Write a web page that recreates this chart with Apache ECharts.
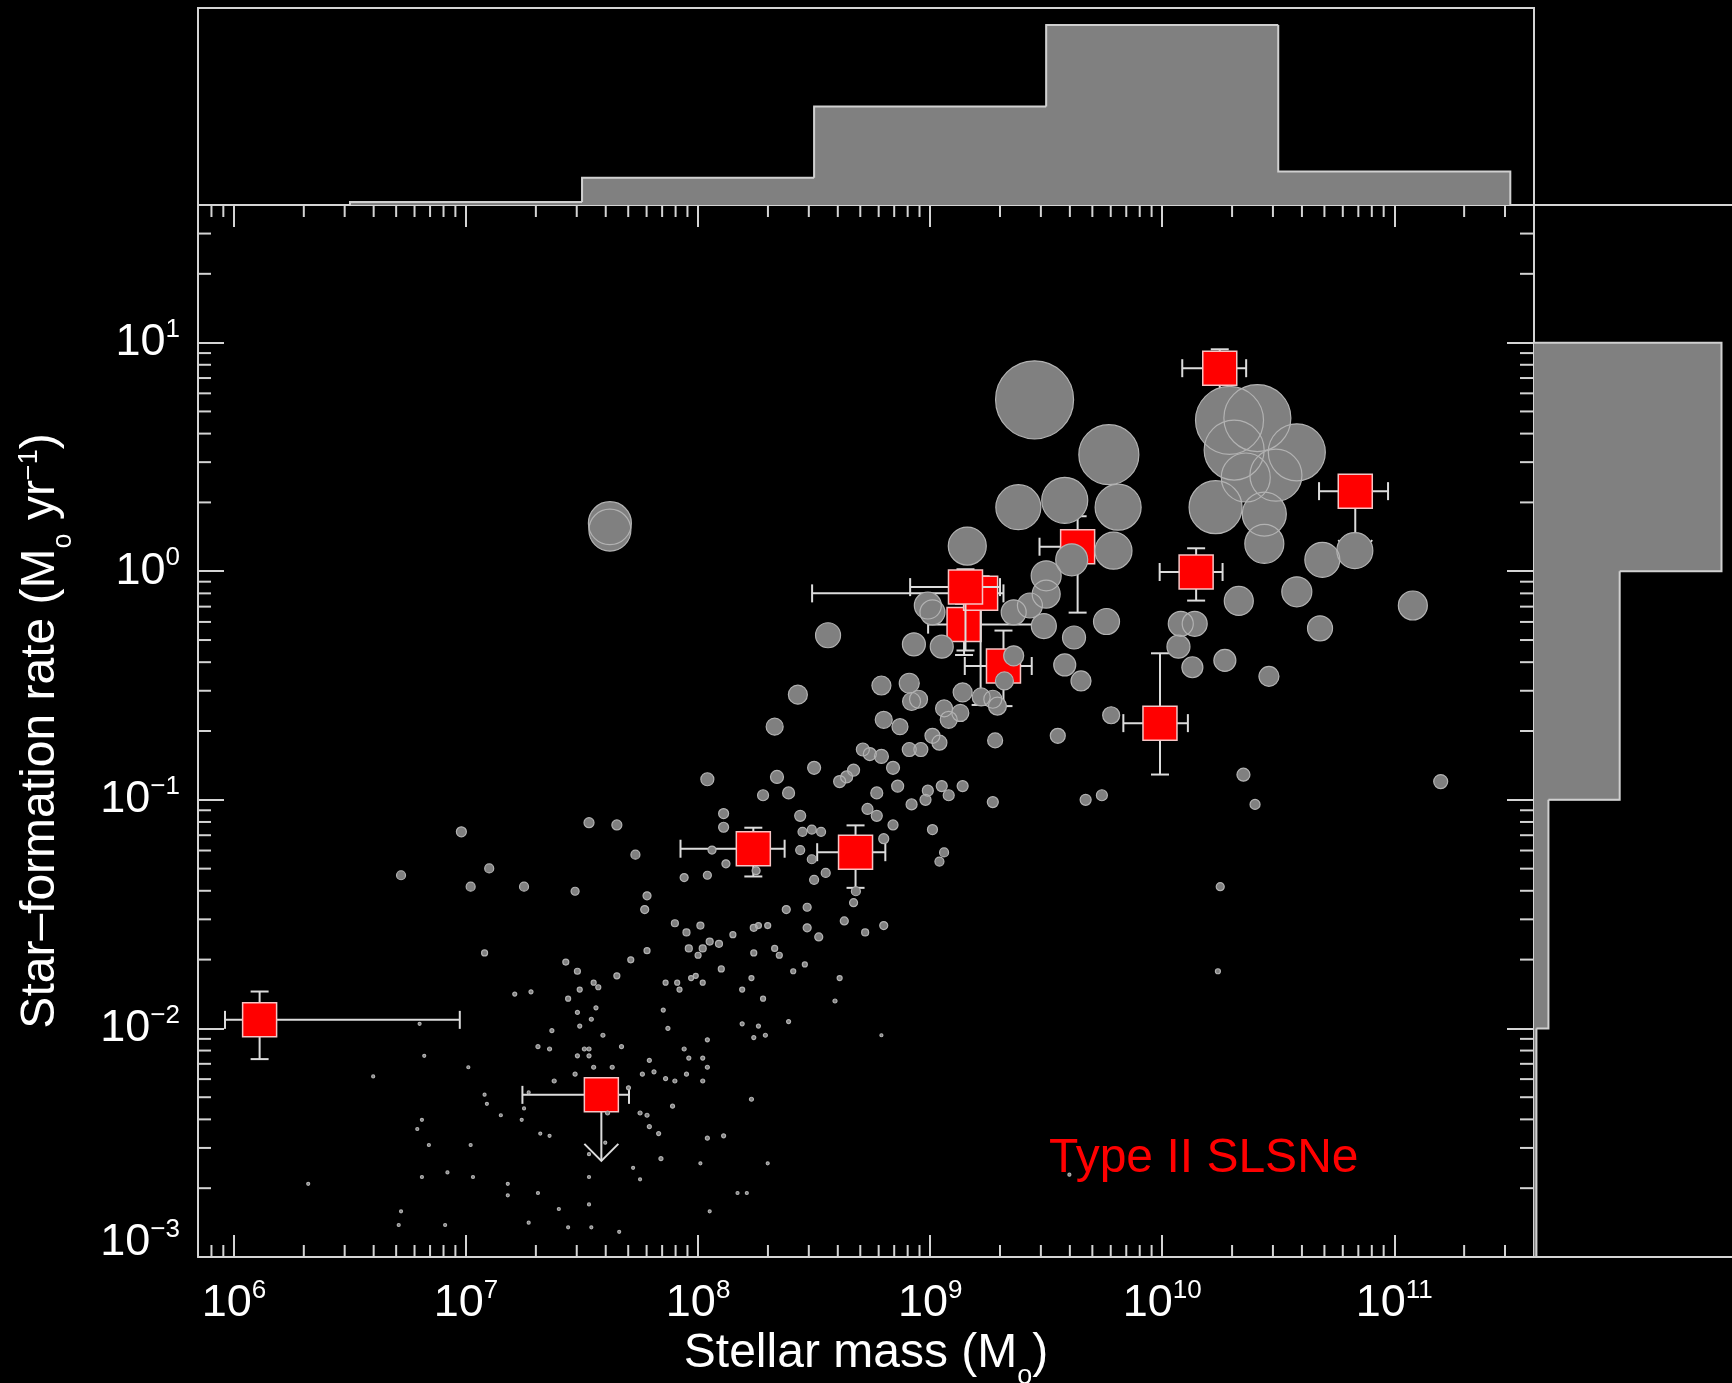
<!DOCTYPE html>
<html>
<head>
<meta charset="utf-8">
<title>Type II SLSN hosts: stellar mass vs star-formation rate</title>
<style>
  html, body { margin: 0; padding: 0; background: #000; }
  #chart { width: 1732px; height: 1383px; }
</style>
<script src="https://cdn.jsdelivr.net/npm/echarts@6/dist/echarts.min.js"></script>
</head>
<body>
<div id="chart"></div>
<script>
// ---------------------------------------------------------------
// Data
// ---------------------------------------------------------------

// Comparison galaxy sample: [log10 stellar mass (Msun), log10 SFR (Msun/yr), marker weight]
const comparisonHosts = [
  [8.28,-0.98,1.1],[6.98,-1.14,1.0],[7.53,-1.10,1.0],[7.65,-1.11,1.0],[8.11,-1.06,1.0],[8.11,-1.12,1.0],
  [7.73,-1.24,0.9],[6.72,-1.33,0.9],[7.10,-1.30,0.9],[7.02,-1.38,0.9],[7.25,-1.38,0.9],[7.47,-1.40,0.8],
  [7.78,-1.42,0.8],[7.77,-1.48,0.8],[8.06,-1.22,0.8],[8.12,-1.28,0.8],[7.94,-1.34,0.8],[8.04,-1.33,0.8],
  [8.25,-1.31,0.8],[7.90,-1.54,0.7],[7.95,-1.58,0.7],[8.01,-1.55,0.7],[8.05,-1.62,0.7],[8.09,-1.63,0.7],
  [8.02,-1.65,0.7],[7.96,-1.65,0.7],[8.00,-1.68,0.6],[8.15,-1.59,0.6],[8.24,-1.56,0.7],[8.26,-1.55,0.6],
  [8.30,-1.55,0.6],[8.24,-1.67,0.6],[7.78,-1.66,0.6],[7.71,-1.70,0.6],[7.65,-1.77,0.6],[7.43,-1.71,0.6],
  [7.48,-1.75,0.6],[7.08,-1.67,0.6],[8.10,-1.74,0.6],[8.23,-1.78,0.5],[8.19,-1.83,0.5],[8.28,-1.87,0.5],
  [7.86,-1.80,0.5],[7.91,-1.80,0.5],[7.92,-1.83,0.5],[7.97,-1.78,0.5],[7.99,-1.77,0.5],[8.02,-1.80,0.5],
  [7.85,-1.92,0.4],[7.87,-2.00,0.4],[7.94,-2.09,0.4],[7.96,-2.13,0.4],[8.02,-2.13,0.4],[8.04,-2.17,0.4],
  [8.04,-2.05,0.4],[8.19,-1.98,0.4],[8.26,-1.99,0.4],[8.29,-2.03,0.4],[8.24,-2.04,0.4],[7.55,-1.80,0.5],
  [7.57,-1.82,0.5],[7.49,-1.83,0.5],[7.44,-1.87,0.5],[7.56,-1.91,0.4],[7.48,-1.93,0.4],[7.54,-1.96,0.4],
  [7.49,-1.99,0.4],[7.59,-2.03,0.4],[7.67,-2.08,0.4],[7.28,-1.84,0.4],[7.21,-1.85,0.4],[7.37,-2.01,0.4],
  [7.31,-2.08,0.4],[7.36,-2.09,0.4],[7.51,-2.09,0.4],[7.53,-2.09,0.4],[7.48,-2.12,0.4],[7.53,-2.12,0.4],
  [7.55,-2.17,0.4],[7.63,-2.17,0.4],[7.47,-2.20,0.4],[7.38,-2.23,0.4],[7.76,-2.20,0.4],[7.81,-2.19,0.4],
  [7.79,-2.14,0.4],[7.86,-2.22,0.4],[7.90,-2.23,0.4],[7.95,-2.20,0.4],[8.02,-2.23,0.4],[7.89,-2.34,0.4],
  [8.23,-2.31,0.4],[7.70,-2.26,0.4],[7.61,-2.37,0.4],[7.75,-2.37,0.4],[7.78,-2.38,0.4],[7.79,-2.43,0.4],
  [7.83,-2.46,0.4],[8.04,-2.48,0.4],[8.11,-2.47,0.4],[7.84,-2.57,0.4],[7.72,-2.61,0.3],[7.75,-2.66,0.3],
  [8.01,-2.59,0.3],[8.30,-2.59,0.3],[8.17,-2.72,0.3],[8.21,-2.72,0.3],[8.05,-2.80,0.3],[7.66,-2.89,0.3],
  [7.54,-2.87,0.3],[7.44,-2.87,0.3],[7.27,-2.85,0.3],[7.40,-2.79,0.3],[7.53,-2.77,0.3],[7.53,-2.65,0.3],
  [7.60,-2.50,0.3],[7.53,-2.55,0.3],[7.31,-2.72,0.3],[7.18,-2.68,0.3],[7.18,-2.73,0.3],[7.03,-2.65,0.3],
  [6.92,-2.63,0.3],[6.81,-2.65,0.3],[6.91,-2.86,0.3],[6.71,-2.86,0.3],[6.72,-2.80,0.3],[6.32,-2.68,0.3],
  [6.84,-2.51,0.3],[7.02,-2.51,0.3],[6.79,-2.44,0.3],[6.81,-2.40,0.3],[7.24,-2.40,0.3],[7.15,-2.38,0.3],
  [7.25,-2.35,0.3],[7.32,-2.46,0.3],[7.36,-2.47,0.3],[7.09,-2.33,0.3],[7.08,-2.29,0.3],[7.27,-2.28,0.3],
  [7.01,-2.17,0.3],[6.82,-2.12,0.3],[6.80,-1.98,0.3],[6.60,-2.21,0.3],
  [8.39,-0.97,1.2],[8.77,-0.97,1.2],[8.86,-0.94,1.2],[8.99,-0.96,1.1],[9.05,-0.94,1.1],[9.08,-0.98,1.1],
  [9.14,-0.94,1.1],[8.98,-1.00,1.1],[8.92,-1.02,1.1],[9.27,-1.01,1.1],[9.67,-1.00,1.1],[9.74,-0.98,1.1],
  [10.40,-1.02,1.0],[8.44,-1.07,1.1],[8.73,-1.04,1.1],[8.77,-1.07,1.1],[8.45,-1.14,0.9],[8.49,-1.13,0.9],
  [8.53,-1.14,0.9],[8.84,-1.11,1.0],[9.01,-1.13,1.0],[8.80,-1.17,1.0],[8.44,-1.22,0.9],[8.49,-1.26,0.9],
  [9.06,-1.23,0.9],[9.04,-1.27,0.9],[8.55,-1.32,0.9],[8.50,-1.35,0.9],[8.68,-1.40,0.9],[8.67,-1.45,0.8],
  [8.38,-1.48,0.8],[8.47,-1.47,0.8],[8.63,-1.53,0.8],[8.80,-1.55,0.8],[8.47,-1.56,0.8],[8.52,-1.60,0.8],
  [8.72,-1.58,0.7],[8.33,-1.65,0.6],[8.35,-1.68,0.6],[8.41,-1.75,0.5],[8.46,-1.72,0.5],[8.61,-1.78,0.5],
  [8.59,-1.88,0.4],[8.39,-1.97,0.4],[8.79,-2.03,0.3],[10.25,-1.38,0.8],[10.24,-1.75,0.5],[9.60,-2.64,0.3],
  [7.62,0.21,4.3],[7.62,0.18,4.2],[8.56,-0.28,2.5],[8.43,-0.54,1.9],[8.33,-0.68,1.7],[8.04,-0.91,1.3],
  [8.34,-0.90,1.3],[8.50,-0.86,1.3],[8.71,-0.78,1.3],[8.74,-0.80,1.3],[8.67,-0.87,1.2],[8.64,-0.90,1.2],
  [8.61,-0.92,1.2],
  [8.99,-0.15,2.7],[9.01,-0.18,2.5],[8.93,-0.32,2.3],[9.05,-0.33,2.3],[8.79,-0.50,1.9],[8.91,-0.49,2.0],
  [8.95,-0.56,1.8],[8.92,-0.57,1.8],[8.80,-0.65,1.7],[8.87,-0.68,1.6],[9.01,-0.72,1.5],[9.04,-0.75,1.5],
  [8.91,-0.78,1.4],[8.96,-0.78,1.4],[8.79,-0.81,1.4],[8.84,-0.86,1.3],[9.14,-0.53,1.9],[9.06,-0.60,1.7],
  [9.13,-0.62,1.7],[9.08,-0.65,1.7],[9.22,-0.55,1.8],[9.27,-0.56,1.8],[9.29,-0.59,1.8],[9.28,-0.74,1.5],
  [9.32,-0.48,1.8],[9.36,-0.37,2.0],[9.55,-0.72,1.5],[9.65,-0.48,2.0],[9.58,-0.41,2.2],[9.62,-0.29,2.3],
  [9.49,-0.24,2.5],[9.36,-0.18,2.5],[9.43,-0.15,2.5],[9.50,-0.10,2.8],[9.50,-0.02,3.0],[9.76,-0.22,2.6],
  [9.78,-0.63,1.7],[10.08,-0.23,2.5],[10.14,-0.23,2.5],[10.07,-0.33,2.3],[10.13,-0.42,2.1],[10.27,-0.39,2.2],
  [10.33,-0.13,2.9],[10.46,-0.46,2.0],[10.58,-0.09,3.0],[10.68,-0.25,2.5],[10.35,-0.89,1.3],
  [9.45,0.75,7.8],[9.77,0.51,6.0],[9.38,0.28,4.5],[9.58,0.31,4.6],[9.81,0.28,4.6],[9.79,0.09,3.7],
  [9.16,0.11,3.8],[9.61,0.05,3.2],[10.29,0.66,6.8],[10.41,0.67,6.7],[10.31,0.53,6.0],[10.58,0.52,5.7],
  [10.36,0.41,4.9],[10.49,0.42,5.2],[10.23,0.28,5.3],[10.44,0.25,4.4],[10.44,0.12,3.9],[10.69,0.05,3.5],
  [10.83,0.09,3.6],[11.08,-0.15,2.9],[11.20,-0.92,1.4]
];

// Type II SLSN hosts (drawing order), stellar mass in Msun and SFR in Msun/yr
const slsnMass    = [1.29e6, 3.83e7, 1.73e8, 4.77e8, 1.40e9, 1.65e9, 1.42e9, 2.07e9, 4.32e9, 9.78e9, 1.40e10, 1.77e10, 6.79e10];
const slsnMassLo  = [9.15e5, 1.75e7, 8.4e7, 3.26e8, 9.8e8, 3.1e8, 8.2e8, 1.41e9, 2.96e9, 6.8e9, 9.75e9, 1.22e10, 4.74e10];
const slsnMassHi  = [9.4e6, 5.04e7, 2.36e8, 6.41e8, 3.13e9, 2.07e9, 2.0e9, 2.74e9, 5.94e9, 1.29e10, 1.82e10, 2.3e10, 9.4e10];
const slsnSfr     = [0.0109, 0.00512, 0.0611, 0.059, 0.584, 0.80, 0.852, 0.385, 1.28, 0.2165, 0.992, 7.73, 2.24];
const slsnSfrLo   = [0.00734, 0.00512, 0.0462, 0.0412, 0.43, 0.26, 0.45, 0.257, 0.659, 0.129, 0.744, 3.9, 2.24];
const slsnSfrHi   = [0.0145, 0.00512, 0.0755, 0.0773, 0.72, 0.95, 1.02, 0.55, 1.74, 0.4375, 1.26, 9.35, 2.24];
const slsnSfrUpperLimit = [0, 1, 0, 0, 0, 0, 0, 0, 0, 0, 0, 0, 1];

// Marginal distributions (relative heights)
const massBinEdges  = [6.5, 7.5, 8.5, 9.5, 10.5, 11.5];   // log10 Msun
const massBinHeight = [0.017, 0.152, 0.547, 1.0, 0.186];
const sfrBinEdges   = [-3, -2, -1, 0, 1];                  // log10 Msun/yr
const sfrBinHeight  = [0.013, 0.077, 0.457, 1.0];

// Axis ranges
const massRange = [7e5, 4e11];
const sfrRange  = [1e-3, 40];

// ---------------------------------------------------------------
// Styling
// ---------------------------------------------------------------
const FONT = '"Liberation Sans", Arial, Helvetica, sans-serif';
const AXIS = '#d4d4d4';
const HIST_FILL = '#808080';
const HIST_EDGE = '#d0d0d0';
const DOT_FILL = '#808080';
const DOT_RING = '#b2b2b2';
const ERR = '#dcdcdc';

const tickRich = {
  b:  { fontSize: 45, lineHeight: 46, color: '#fff', fontFamily: FONT },
  b3: { fontSize: 45, lineHeight: 46, color: '#fff', fontFamily: FONT, padding: [0, 0, 28, 0] },
  s:  { fontSize: 26, lineHeight: 20, color: '#fff', fontFamily: FONT, padding: [0, 0, 26, 0] },
  s3: { fontSize: 26, lineHeight: 20, color: '#fff', fontFamily: FONT, padding: [0, 0, 54, 0] }
};

function powerLabel(v) {
  const e = Math.log10(v);
  const r = Math.round(e);
  if (Math.abs(e - r) > 1e-6) return '';
  const exp = r < 0 ? '\u2212' + (-r) : String(r);
  return r === -3 ? '{b3|10}{s3|' + exp + '}' : '{b|10}{s|' + exp + '}';
}

// minor tick positions on the log axes
const minorMass = [];
for (let e = 5; e <= 11; e++) for (let k = 2; k <= 9; k++) {
  const v = k * Math.pow(10, e);
  if (v > massRange[0] * 1.001 && v < massRange[1] * 0.999) minorMass.push(v);
}
const minorSfr = [];
for (let e = -3; e <= 1; e++) for (let k = 2; k <= 9; k++) {
  const v = k * Math.pow(10, e);
  if (v > sfrRange[0] * 1.001 && v < sfrRange[1] * 0.999) minorSfr.push(v);
}
const minorTickData = minorMass.map(v => [v, sfrRange[0], 0])
  .concat(minorSfr.map(v => [massRange[0], v, 1]));

const hostData = comparisonHosts.map(h => [Math.pow(10, h[0]), Math.pow(10, h[1]), h[2]]);

const slsnData = slsnMass.map((m, i) => [m, slsnSfr[i], slsnMassLo[i], slsnMassHi[i], slsnSfrLo[i], slsnSfrHi[i], slsnSfrUpperLimit[i]]);

const massBinData = massBinHeight.map((h, i) => [
  Math.pow(10, massBinEdges[i]), Math.pow(10, massBinEdges[i + 1]), h,
  i > 0 ? massBinHeight[i - 1] : 0, i === massBinHeight.length - 1 ? 1 : 0
]);
const sfrBinData = sfrBinHeight.map((w, i) => [
  Math.pow(10, sfrBinEdges[i]), Math.pow(10, sfrBinEdges[i + 1]), w,
  i > 0 ? sfrBinHeight[i - 1] : 0, i === sfrBinHeight.length - 1 ? 1 : 0
]);

// ---------------------------------------------------------------
// Renderers
// ---------------------------------------------------------------
function renderMinorTick(params, api) {
  const cs = params.coordSys;
  const p = api.coord([api.value(0), api.value(1)]);
  const st = { stroke: AXIS, lineWidth: 2 };
  if (api.value(2) === 0) {
    const x = p[0], yb = cs.y + cs.height, yt = cs.y;
    return { type: 'group', children: [
      { type: 'line', shape: { x1: x, y1: yb, x2: x, y2: yb - 12 }, style: st },
      { type: 'line', shape: { x1: x, y1: yt, x2: x, y2: yt + 12 }, style: st }
    ] };
  }
  const y = p[1], xl = cs.x, xr = cs.x + cs.width;
  return { type: 'group', children: [
    { type: 'line', shape: { x1: xl, y1: y, x2: xl + 13, y2: y }, style: st },
    { type: 'line', shape: { x1: xr, y1: y, x2: xr - 14, y2: y }, style: st }
  ] };
}

// histogram fills (slightly overlapped so neighbouring bins show no seam)
function renderMassFill(params, api) {
  const a = api.coord([api.value(0), 0]), b = api.coord([api.value(1), api.value(2)]);
  return { type: 'rect', shape: { x: a[0] - 0.6, y: b[1], width: b[0] - a[0] + 1.2, height: a[1] - b[1] },
    style: { fill: HIST_FILL } };
}
function renderMassEdge(params, api) {
  const lo = api.value(0), hi = api.value(1), h = api.value(2), prev = api.value(3), last = api.value(4);
  const a = api.coord([lo, 0]), b = api.coord([hi, h]), p = api.coord([lo, prev]);
  const pts = [[a[0], p[1]], [a[0], b[1]], [b[0], b[1]]];
  if (last) pts.push([b[0], a[1]]);
  return { type: 'polyline', shape: { points: pts }, style: { stroke: HIST_EDGE, lineWidth: 2, fill: null } };
}
function renderSfrFill(params, api) {
  const a = api.coord([0, api.value(0)]), b = api.coord([api.value(2), api.value(1)]);
  return { type: 'rect', shape: { x: a[0], y: b[1] - 0.6, width: b[0] - a[0], height: a[1] - b[1] + 1.2 },
    style: { fill: HIST_FILL } };
}
function renderSfrEdge(params, api) {
  const lo = api.value(0), hi = api.value(1), w = api.value(2), prev = api.value(3), last = api.value(4);
  const a = api.coord([0, lo]), b = api.coord([w, hi]), p = api.coord([prev, lo]);
  const pts = [[p[0], a[1]], [b[0], a[1]], [b[0], b[1]]];
  if (last) pts.push([a[0], b[1]]);
  return { type: 'polyline', shape: { points: pts }, style: { stroke: HIST_EDGE, lineWidth: 2, fill: null } };
}

function renderSlsn(params, api) {
  const m = api.value(0), s = api.value(1);
  const c = api.coord([m, s]);
  const xl = api.coord([api.value(2), s])[0];
  const xr = api.coord([api.value(3), s])[0];
  const st = { stroke: ERR, lineWidth: 2 };
  const kids = [
    { type: 'line', shape: { x1: xl, y1: c[1], x2: xr, y2: c[1] }, style: st },
    { type: 'line', shape: { x1: xl, y1: c[1] - 9, x2: xl, y2: c[1] + 9 }, style: st },
    { type: 'line', shape: { x1: xr, y1: c[1] - 9, x2: xr, y2: c[1] + 9 }, style: st }
  ];
  if (api.value(6)) {
    const tip = c[1] + 66;
    kids.push({ type: 'line', shape: { x1: c[0], y1: c[1], x2: c[0], y2: tip }, style: st });
    kids.push({ type: 'polyline', shape: { points: [[c[0] - 17, tip - 17], [c[0], tip], [c[0] + 17, tip - 17]] }, style: { stroke: ERR, lineWidth: 2, fill: null } });
  } else {
    const yb = api.coord([m, api.value(4)])[1];
    const yt = api.coord([m, api.value(5)])[1];
    kids.push({ type: 'line', shape: { x1: c[0], y1: yt, x2: c[0], y2: yb }, style: st });
    kids.push({ type: 'line', shape: { x1: c[0] - 9, y1: yt, x2: c[0] + 9, y2: yt }, style: st });
    kids.push({ type: 'line', shape: { x1: c[0] - 9, y1: yb, x2: c[0] + 9, y2: yb }, style: st });
  }
  kids.push({ type: 'rect', shape: { x: c[0] - 17, y: c[1] - 17, width: 34, height: 34 },
    style: { fill: '#ff0000', stroke: '#f6c4c4', lineWidth: 1.5 } });
  return { type: 'group', children: kids };
}

// ---------------------------------------------------------------
// Chart
// ---------------------------------------------------------------
const axisLineStyle = { show: true, onZero: false, lineStyle: { color: AXIS, width: 2 } };

const option = {
  backgroundColor: '#000',
  animation: false,
  title: {
    text: 'Type II SLSNe', left: 1049, top: 1135, padding: 0,
    textStyle: { color: '#ff0000', fontSize: 48, lineHeight: 48, fontWeight: 'normal', fontFamily: FONT }
  },
  grid: [
    { left: 198, right: 198, top: 205, bottom: 126, outerBoundsMode: 'none' },
    { left: 198, right: 198, top: 8, bottom: 1178, show: true, borderColor: AXIS, borderWidth: 2,
      backgroundColor: 'transparent', outerBoundsMode: 'none' },
    { left: 1534, right: -12, top: 205, bottom: 126, show: true, borderColor: AXIS, borderWidth: 2,
      backgroundColor: 'transparent', outerBoundsMode: 'none' }
  ],
  xAxis: [
    { gridIndex: 0, type: 'log', logBase: 10, min: massRange[0], max: massRange[1], position: 'bottom',
      axisLine: axisLineStyle,
      axisTick: { show: true, inside: true, length: 22, lineStyle: { color: AXIS, width: 2 } },
      splitLine: { show: false },
      axisLabel: { show: true, margin: 24, formatter: powerLabel, rich: tickRich, color: '#fff' },
      name: 'Stellar mass (M{o|o})', nameLocation: 'middle', nameGap: 72, nameMoveOverlap: false,
      nameTextStyle: { color: '#fff', fontSize: 48, lineHeight: 50, fontFamily: FONT,
        rich: { o: { fontSize: 27, lineHeight: 10, color: '#fff', fontFamily: FONT, padding: [46, 0, 0, 0] } } } },
    { gridIndex: 0, type: 'log', logBase: 10, min: massRange[0], max: massRange[1], position: 'top',
      axisLine: axisLineStyle,
      axisTick: { show: true, inside: true, length: 22, lineStyle: { color: AXIS, width: 2 } },
      splitLine: { show: false }, axisLabel: { show: false } },
    { gridIndex: 1, type: 'log', logBase: 10, min: massRange[0], max: massRange[1], show: false },
    { gridIndex: 2, type: 'value', min: 0, max: 1.12, show: false }
  ],
  yAxis: [
    { gridIndex: 0, type: 'log', logBase: 10, min: sfrRange[0], max: sfrRange[1], position: 'left',
      axisLine: axisLineStyle,
      axisTick: { show: true, inside: true, length: 26, lineStyle: { color: AXIS, width: 2 } },
      splitLine: { show: false },
      axisLabel: { show: true, margin: 18, formatter: powerLabel, rich: tickRich, color: '#fff' },
      name: 'Star\u2013formation rate (M{o|o} yr{sup|\u22121})', nameLocation: 'middle', nameGap: 132,
      nameMoveOverlap: false,
      nameTextStyle: { color: '#fff', fontSize: 48, lineHeight: 50, fontFamily: FONT,
        rich: {
          o: { fontSize: 27, lineHeight: 10, color: '#fff', fontFamily: FONT, padding: [46, 0, 0, 0] },
          sup: { fontSize: 27, lineHeight: 10, color: '#fff', fontFamily: FONT, padding: [0, 0, 22, 0] }
        } } },
    { gridIndex: 0, type: 'log', logBase: 10, min: sfrRange[0], max: sfrRange[1], position: 'right',
      axisLine: axisLineStyle,
      axisTick: { show: true, inside: true, length: 27, lineStyle: { color: AXIS, width: 2 } },
      splitLine: { show: false }, axisLabel: { show: false } },
    { gridIndex: 1, type: 'value', min: 0, max: 1.094, show: false },
    { gridIndex: 2, type: 'log', logBase: 10, min: sfrRange[0], max: sfrRange[1], show: false }
  ],
  series: [
    { type: 'custom', name: 'mass distribution', xAxisIndex: 2, yAxisIndex: 2, silent: true,
      encode: { x: [0, 1], y: [2, 3] }, data: massBinData, renderItem: renderMassFill },
    { type: 'custom', name: 'mass distribution edge', xAxisIndex: 2, yAxisIndex: 2, silent: true,
      encode: { x: [0, 1], y: [2, 3] }, data: massBinData, renderItem: renderMassEdge },
    { type: 'custom', name: 'SFR distribution', xAxisIndex: 3, yAxisIndex: 3, silent: true,
      encode: { x: [2, 3], y: [0, 1] }, data: sfrBinData, renderItem: renderSfrFill },
    { type: 'custom', name: 'SFR distribution edge', xAxisIndex: 3, yAxisIndex: 3, silent: true,
      encode: { x: [2, 3], y: [0, 1] }, data: sfrBinData, renderItem: renderSfrEdge },
    { type: 'custom', name: 'minor ticks', xAxisIndex: 0, yAxisIndex: 0, silent: true,
      encode: { x: 0, y: 1 }, data: minorTickData, renderItem: renderMinorTick },
    { type: 'scatter', name: 'comparison galaxies', xAxisIndex: 0, yAxisIndex: 0, silent: true,
      symbol: 'circle', symbolSize: v => v[2] * 10, data: hostData,
      itemStyle: { color: DOT_FILL, borderWidth: 0, opacity: 1 } },
    { type: 'scatter', name: 'comparison galaxies outline', xAxisIndex: 0, yAxisIndex: 0, silent: true,
      symbol: 'circle', symbolSize: v => v[2] * 10, data: hostData,
      itemStyle: { color: 'rgba(0,0,0,0)', borderColor: DOT_RING, borderWidth: 1.2, opacity: 1 } },
    { type: 'custom', name: 'Type II SLSNe', xAxisIndex: 0, yAxisIndex: 0, silent: true,
      encode: { x: 0, y: 1 }, data: slsnData, renderItem: renderSlsn }
  ]
};

const chart = echarts.init(document.getElementById('chart'), null, { renderer: 'canvas' });
chart.setOption(option);
</script>
</body>
</html>
